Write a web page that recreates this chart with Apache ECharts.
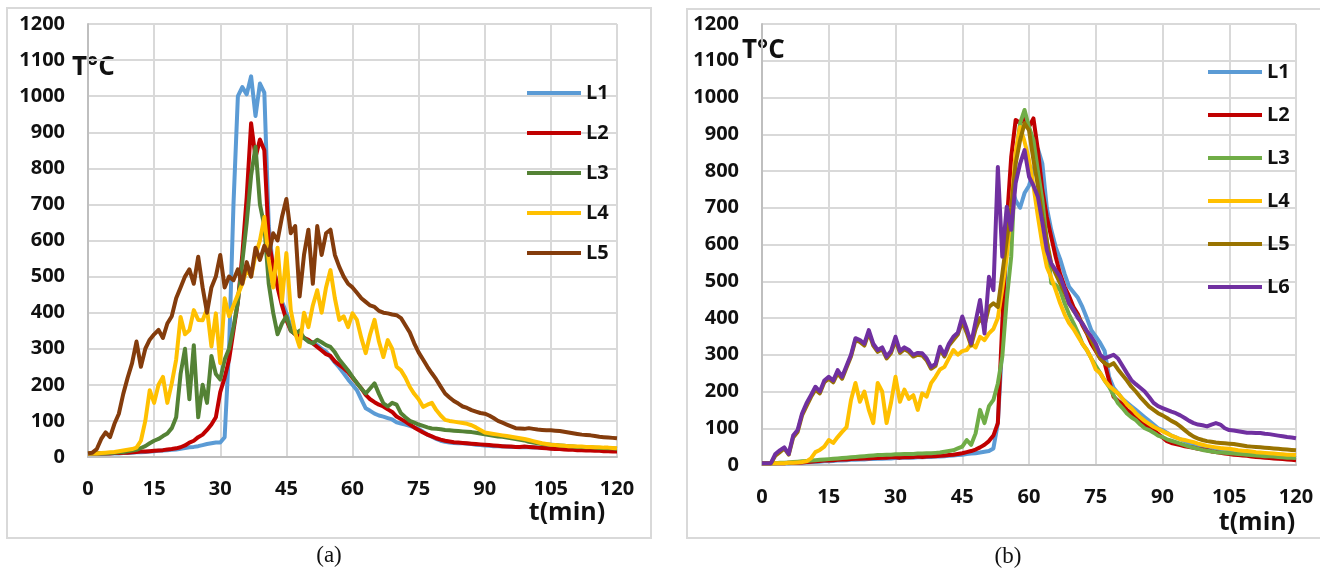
<!DOCTYPE html>
<html>
<head>
<meta charset="utf-8">
<script src="https://cdn.jsdelivr.net/npm/echarts@6.0.0/dist/echarts.min.js"></script>
<style>
  html, body { margin: 0; padding: 0; background: #fff; }
  #wrap { position: relative; width: 1320px; height: 571px; overflow: hidden; }
  #chartA { position: absolute; left: 0; top: 0; width: 660px; height: 571px; }
  #chartB { position: absolute; left: 660px; top: 0; width: 660px; height: 571px; }
</style>
</head>
<body>
<div id="wrap"><div id="chartA"></div><div id="chartB"></div></div>
<script>
// Temperature records, one reading per minute from t = 0 to t = 120 min.
const STEP_MIN = 1;
const X_TICKS = [0, 15, 30, 45, 60, 75, 90, 105, 120];
const Y_TICKS = [0, 100, 200, 300, 400, 500, 600, 700, 800, 900, 1000, 1100, 1200];

// ---- panel (a) ----
const aL1 = [
  10,10,10,10,10,10,10,10,11,11,
  12,13,13,14,15,16,17,18,19,20,
  21,23,25,27,28,30,33,36,38,40,
  40,55,300,700,1000,1025,1005,1055,945,1035,
  1010,640,520,480,430,400,360,350,340,330,
  320,318,310,300,292,278,262,248,232,215,
  200,185,160,135,128,120,115,112,108,104,
  96,93,90,86,82,78,70,62,56,50,
  45,42,40,39,38,38,37,36,34,33,
  32,31,30,30,29,29,28,28,27,27,
  27,26,26,25,25,24,24,24,23,23,
  22,22,22,21,21,21,20,20,20,19,19
];
const aL2 = [
  10,10,10,10,10,10,11,11,12,12,
  13,14,15,15,16,17,18,19,21,22,
  24,27,32,40,45,55,62,75,90,110,
  180,220,270,350,430,560,720,925,830,880,
  850,600,530,470,420,380,350,340,335,330,
  325,315,305,295,285,280,265,255,246,235,
  220,205,190,172,160,152,145,140,132,125,
  112,105,98,90,82,75,68,62,57,52,
  48,45,43,41,40,39,38,37,36,35,
  34,33,32,31,30,29,29,28,28,29,
  28,27,26,25,24,23,22,22,21,20,
  20,19,19,18,18,17,17,16,16,15,15
];
const aL3 = [
  10,10,10,10,10,11,12,13,14,16,
  18,20,25,30,38,45,50,58,65,80,
  110,230,300,160,310,110,200,150,280,230,
  215,270,300,360,430,540,650,780,860,700,
  640,480,400,340,370,390,350,340,350,330,
  320,315,325,318,310,305,290,270,255,240,
  222,205,190,176,190,204,175,149,140,150,
  145,121,110,100,95,90,86,82,79,78,
  77,75,74,73,72,71,70,69,67,65,
  63,61,59,57,56,54,52,50,48,46,
  42,40,38,36,35,34,33,32,31,30,
  29,28,28,27,27,26,25,25,24,24,23
];
const aL4 = [
  10,10,10,11,12,13,14,16,18,20,
  22,26,45,100,185,150,200,222,150,204,
  270,388,340,351,407,380,379,410,306,398,
  260,440,390,420,450,480,520,500,560,600,
  665,545,470,580,430,565,407,344,305,400,
  360,420,462,400,470,518,440,380,390,360,
  398,380,330,288,340,380,320,277,324,300,
  250,240,220,194,175,160,139,145,150,130,
  115,103,100,98,96,94,92,88,82,75,
  68,66,64,62,60,58,56,54,52,50,
  47,44,41,38,36,34,33,32,31,30,
  30,29,29,28,28,27,27,26,26,25,24
];
const aL5 = [
  10,12,22,50,68,55,92,120,175,220,
  260,320,250,300,325,340,352,330,370,390,
  440,470,500,520,480,555,470,400,470,500,
  560,470,500,490,520,480,540,500,580,546,
  585,560,620,600,665,715,620,640,445,560,
  630,480,640,560,620,630,560,527,500,480,
  470,455,440,430,420,416,405,400,398,395,
  393,385,365,345,315,290,270,250,232,215,
  195,176,165,155,148,140,136,130,126,122,
  120,115,108,100,95,90,85,80,79,78,
  80,78,76,75,74,74,73,72,70,68,
  66,64,62,61,60,58,56,55,54,53,52
];

// ---- panel (b) ----
const bL1 = [
  5,5,5,5,5,5,5,6,6,7,
  7,8,8,9,10,10,11,12,12,13,
  14,14,15,15,16,16,17,17,18,18,
  19,19,20,20,20,21,21,22,22,23,
  23,24,25,26,27,28,30,31,32,34,
  36,38,45,114,330,620,760,720,700,740,
  760,800,860,820,700,640,593,560,520,485,
  470,455,430,400,367,350,332,310,240,210,
  195,180,170,160,150,140,130,120,110,100,
  95,88,80,75,70,65,60,56,52,48,
  45,42,40,38,36,35,33,32,30,29,
  28,27,26,25,24,23,22,21,20,20,19
];
const bL2 = [
  5,5,5,5,5,5,6,6,6,7,
  8,9,10,11,12,12,13,14,15,15,
  16,17,17,18,18,19,19,20,20,21,
  21,20,22,21,22,23,22,23,24,24,
  25,26,27,28,30,32,35,38,42,48,
  55,65,80,114,386,658,838,939,930,945,
  920,943,857,748,675,620,566,520,485,460,
  430,410,380,358,330,310,290,277,230,186,
  175,165,150,140,130,120,110,104,95,85,
  75,65,60,57,54,51,49,47,44,42,
  40,37,35,33,31,30,28,27,26,25,
  23,22,21,20,19,18,17,16,15,14,13
];
const bL3 = [
  5,5,5,5,6,6,7,8,9,10,
  11,12,13,14,15,16,17,18,19,20,
  21,22,23,24,25,26,27,27,28,28,
  29,29,30,30,30,31,31,32,32,33,
  34,36,38,40,45,50,68,55,86,150,
  114,160,177,222,295,450,567,838,930,966,
  920,884,800,721,611,495,490,476,440,410,
  386,360,330,313,290,270,250,230,213,190,
  168,155,140,130,122,110,100,95,88,80,
  76,70,66,62,58,54,50,47,44,41,
  39,37,35,34,33,32,31,30,29,28,
  27,26,25,24,24,23,22,21,20,20,19
];
const bL4 = [
  5,5,5,5,5,5,6,6,7,8,
  10,18,35,41,50,68,60,76,90,103,
  177,223,172,200,150,114,223,200,114,170,
  240,172,205,180,190,150,195,186,223,240,
  260,267,290,313,300,310,313,330,320,349,
  340,358,370,400,480,567,700,850,920,880,
  830,760,676,600,539,510,476,440,410,386,
  370,350,330,313,290,260,250,230,215,205,
  195,180,165,155,141,130,120,112,104,98,
  92,86,80,75,70,68,65,62,58,55,
  52,50,48,46,45,44,42,40,39,38,
  37,35,34,33,32,31,30,29,28,28,27
];
const bL5 = [
  5,5,5,25,35,45,28,75,90,135,
  160,185,205,195,225,235,225,250,235,265,
  295,340,335,325,360,325,308,315,290,305,
  340,305,315,308,295,300,298,285,262,270,
  315,295,325,340,355,390,360,325,370,400,
  380,430,440,430,520,612,700,820,884,930,
  911,830,760,676,610,548,520,494,470,440,
  420,404,385,360,340,313,290,277,270,277,
  260,245,230,213,200,185,172,159,150,141,
  135,128,120,114,105,95,85,77,72,68,
  65,63,61,60,59,58,57,55,53,51,
  50,49,48,47,46,45,44,43,42,41,40
];
const bL6 = [
  5,5,5,30,40,48,30,80,95,140,
  168,190,213,200,230,240,230,258,240,270,
  300,345,340,330,367,330,313,320,295,310,
  349,310,320,313,300,305,304,290,267,275,
  322,300,330,349,360,404,370,331,390,449,
  358,512,476,811,567,703,640,767,820,857,
  785,760,730,660,585,548,530,512,480,440,
  422,400,385,365,349,330,300,290,295,300,
  290,270,250,231,220,210,200,185,169,160,
  155,150,145,141,135,128,120,114,110,108,
  105,110,114,110,100,95,94,92,90,88,
  88,87,87,85,84,82,80,78,76,75,73
];

const FONT = '"Open Sans", "DejaVu Sans", sans-serif';
const GRID_LINE = '#d9d9d9';
const AXIS_LINE = '#bfbfbf';

function toPoints(values) {
  return values.map((v, i) => [i * STEP_MIN, v]);
}

function axisLabelStyle(extra) {
  return Object.assign({
    fontFamily: FONT, fontWeight: 'bold', fontSize: 20, color: '#111',
    formatter: v => String(v)
  }, extra);
}

function buildOption(p) {
  return {
    animation: false,
    backgroundColor: '#fff',
    grid: p.grid,
    xAxis: {
      type: 'value', min: X_TICKS[0], max: X_TICKS[X_TICKS.length - 1],
      interval: X_TICKS[1] - X_TICKS[0],
      axisLine: { show: true, lineStyle: { color: AXIS_LINE, width: 2 } },
      axisTick: { show: false },
      axisLabel: axisLabelStyle({ margin: 22 }),
      splitLine: { show: true, lineStyle: { color: GRID_LINE, width: 2 } }
    },
    yAxis: {
      type: 'value', min: Y_TICKS[0], max: Y_TICKS[Y_TICKS.length - 1],
      interval: Y_TICKS[1] - Y_TICKS[0],
      axisLine: { show: true, lineStyle: { color: AXIS_LINE, width: 2 } },
      axisTick: { show: false },
      axisLabel: axisLabelStyle({ margin: 23 }),
      splitLine: { show: true, lineStyle: { color: GRID_LINE, width: 2 } }
    },
    legend: {
      orient: 'vertical', left: p.legend.left, top: p.legend.top,
      itemGap: p.legend.gap, icon: 'rect', itemWidth: 54, itemHeight: 4,
      textStyle: { fontFamily: FONT, fontWeight: 'bold', fontSize: 20, color: '#111', lineHeight: 24 },
      data: p.series.map(s => s.name)
    },
    series: p.series.map(s => ({
      type: 'line', name: s.name, data: toPoints(s.values),
      symbol: 'none', showSymbol: false,
      lineStyle: { width: 4, color: s.color, join: 'round' },
      itemStyle: { color: s.color },
      emphasis: { disabled: true }
    })),
    graphic: [
      { type: 'rect', shape: p.frame, silent: true,
        style: { fill: 'none', stroke: GRID_LINE, lineWidth: 2 } },
      { type: 'text', x: p.yTitle[0], y: p.yTitle[1], silent: true,
        style: { text: 'T°C', font: 'bold 26px ' + FONT, fill: '#111',
                 textAlign: 'left', textVerticalAlign: 'middle' } },
      { type: 'text', x: p.xTitle[0], y: p.xTitle[1], silent: true,
        style: { text: 't(min)', font: 'bold 25px ' + FONT, fill: '#111',
                 textAlign: 'center', textVerticalAlign: 'middle' } },
      { type: 'text', x: p.caption[0], y: p.caption[1], silent: true,
        style: { text: p.captionText, font: '23px "Liberation Serif", "Times New Roman", serif', fill: '#111',
                 textAlign: 'center', textVerticalAlign: 'middle' } }
    ]
  };
}

const chartA = echarts.init(document.getElementById('chartA'), null, { renderer: 'canvas' });
chartA.setOption(buildOption({
  grid: { left: 88, top: 24, width: 529, height: 433 },
  legend: { left: 522, top: 76, gap: 16 },
  frame: { x: 7, y: 8, width: 644, height: 530 },
  yTitle: [72, 68],
  xTitle: [567, 513],
  caption: [329, 556],
  captionText: '(a)',
  series: [
    { name: 'L1', color: '#5B9BD5', values: aL1 },
    { name: 'L2', color: '#C00000', values: aL2 },
    { name: 'L3', color: '#548235', values: aL3 },
    { name: 'L4', color: '#FFC000', values: aL4 },
    { name: 'L5', color: '#843C0C', values: aL5 }
  ]
}));

const chartB = echarts.init(document.getElementById('chartB'), null, { renderer: 'canvas' });
chartB.setOption(buildOption({
  grid: { left: 102, top: 24, width: 534, height: 441 },
  legend: { left: 543, top: 55, gap: 19 },
  frame: { x: 27, y: 9, width: 700, height: 529 },
  yTitle: [82, 51],
  xTitle: [597, 523],
  caption: [348, 557],
  captionText: '(b)',
  series: [
    { name: 'L1', color: '#5B9BD5', values: bL1 },
    { name: 'L2', color: '#C00000', values: bL2 },
    { name: 'L3', color: '#70AD47', values: bL3 },
    { name: 'L4', color: '#FFC000', values: bL4 },
    { name: 'L5', color: '#997300', values: bL5 },
    { name: 'L6', color: '#7030A0', values: bL6 }
  ]
}));
</script>
</body>
</html>
